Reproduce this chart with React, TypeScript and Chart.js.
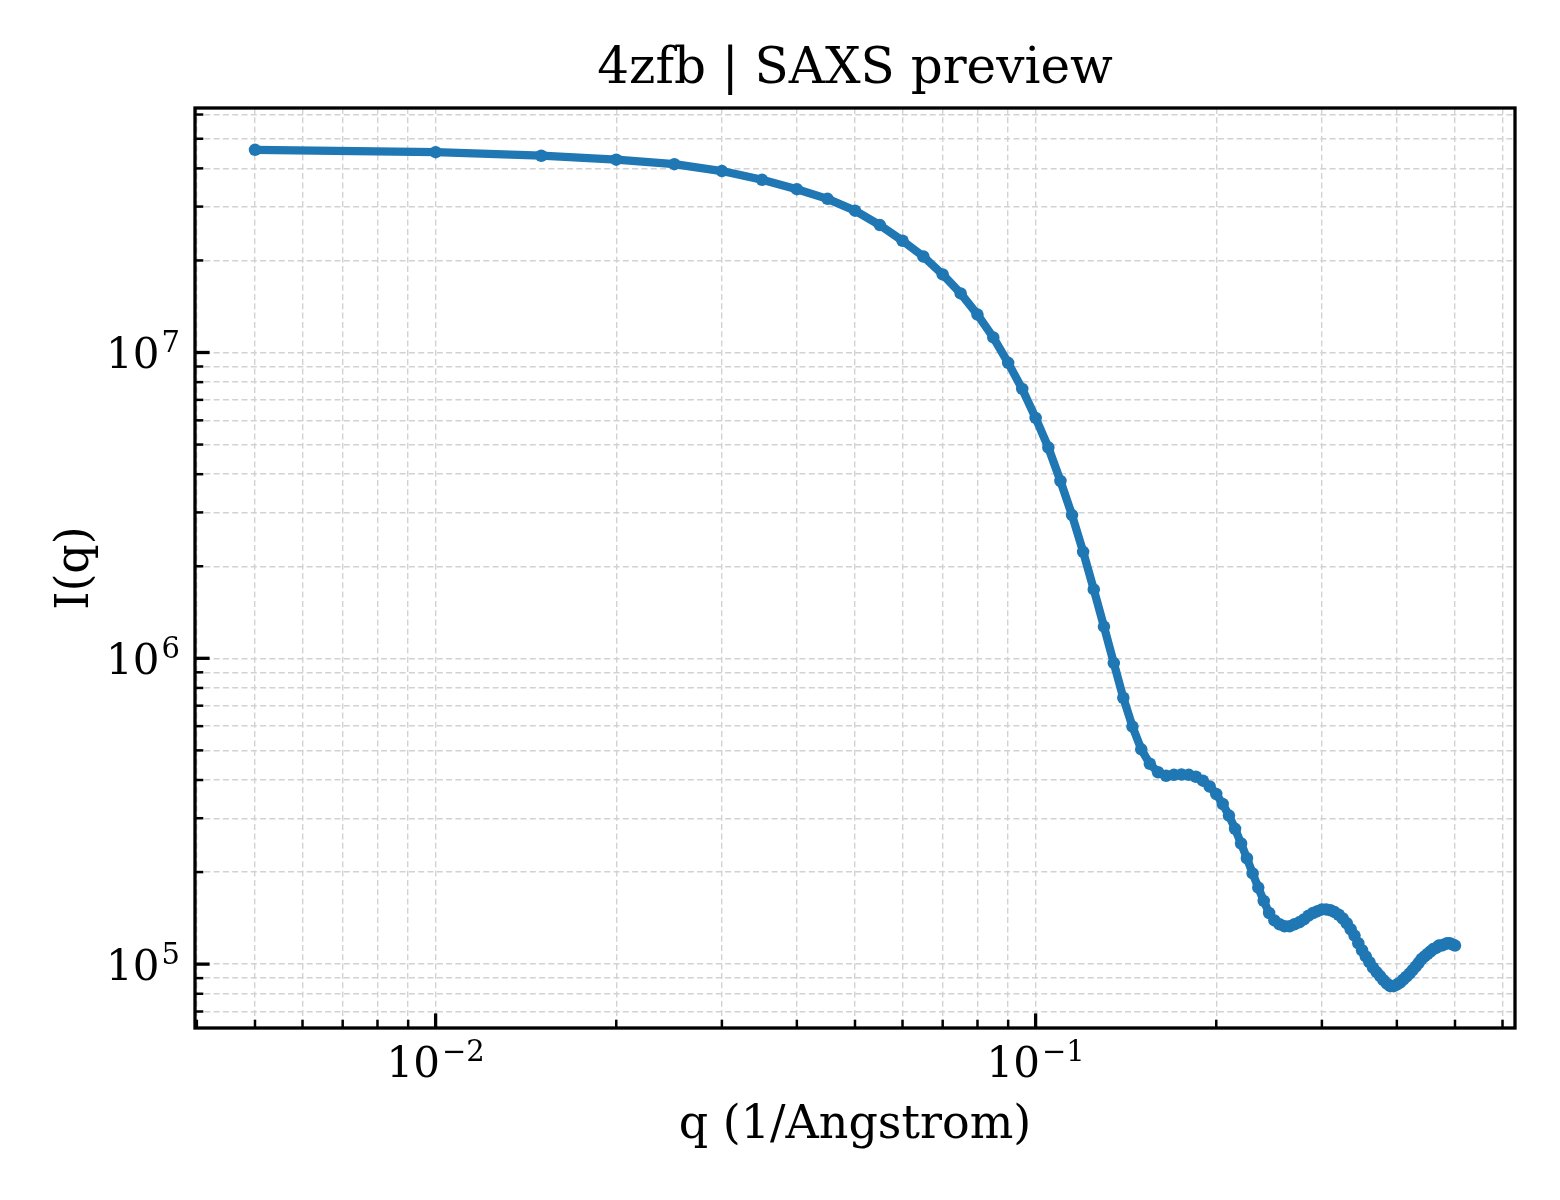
import { useEffect, useRef } from 'react';
import { Chart, registerables } from 'chart.js';

Chart.register(...registerables);

// scattering vector q (1/Angstrom)
const q = [
  0.005, 0.01, 0.015, 0.02, 0.025, 0.03, 0.035, 0.04, 0.045, 0.05,
  0.055, 0.06, 0.065, 0.07, 0.075, 0.08, 0.085, 0.09, 0.095, 0.1,
  0.105, 0.11, 0.115, 0.12, 0.125, 0.13, 0.135, 0.14, 0.145, 0.15,
  0.155, 0.16, 0.165, 0.17, 0.175, 0.18, 0.185, 0.19, 0.195, 0.2,
  0.205, 0.21, 0.215, 0.22, 0.225, 0.23, 0.235, 0.24, 0.245, 0.25,
  0.255, 0.26, 0.265, 0.27, 0.275, 0.28, 0.285, 0.29, 0.295, 0.3,
  0.305, 0.31, 0.315, 0.32, 0.325, 0.33, 0.335, 0.34, 0.345, 0.35,
  0.355, 0.36, 0.365, 0.37, 0.375, 0.38, 0.385, 0.39, 0.395, 0.4,
  0.405, 0.41, 0.415, 0.42, 0.425, 0.43, 0.435, 0.44, 0.445, 0.45,
  0.455, 0.46, 0.465, 0.47, 0.475, 0.48, 0.485, 0.49, 0.495, 0.5,
];

// I(q)
const intensity = [
  4.60e7, 4.52e7, 4.40e7, 4.27e7, 4.13e7, 3.92e7, 3.67e7, 3.42e7, 3.18e7, 2.91e7,
  2.61e7, 2.32e7, 2.06e7, 1.80e7, 1.56e7, 1.33e7, 1.12e7, 9.25e6, 7.60e6, 6.11e6,
  4.89e6, 3.80e6, 2.94e6, 2.23e6, 1.68e6, 1.27e6, 9.65e5, 7.43e5, 5.98e5, 5.04e5,
  4.52e5, 4.24e5, 4.13e5, 4.16e5, 4.17e5, 4.16e5, 4.10e5, 3.98e5, 3.81e5, 3.60e5,
  3.34e5, 3.06e5, 2.77e5, 2.48e5, 2.22e5, 1.98e5, 1.78e5, 1.61e5, 1.47e5, 1.39e5,
  1.35e5, 1.33e5, 1.33e5, 1.35e5, 1.37e5, 1.40e5, 1.44e5, 1.47e5, 1.49e5, 1.51e5,
  1.51e5, 1.50e5, 1.48e5, 1.45e5, 1.41e5, 1.36e5, 1.30e5, 1.24e5, 1.17e5, 1.11e5,
  1.06e5, 1.015e5, 9.74e4, 9.42e4, 9.14e4, 8.86e4, 8.63e4, 8.47e4, 8.47e4, 8.57e4,
  8.70e4, 8.90e4, 9.10e4, 9.31e4, 9.56e4, 9.81e4, 1.01e5, 1.04e5, 1.06e5, 1.08e5,
  1.10e5, 1.12e5, 1.13e5, 1.15e5, 1.15e5, 1.16e5, 1.17e5, 1.17e5, 1.16e5, 1.15e5,
];

const xMajorTicks = [0.01, 0.1];
const xMajorExps = ['\u22122', '\u22121'];
const yMajorTicks = [1e5, 1e6, 1e7];
const yMajorExps = ['5', '6', '7'];

const TITLE = '4zfb | SAXS preview';
const X_LABEL = 'q (1/Angstrom)';
const Y_LABEL = 'I(q)';

const SERIF = '"DejaVu Serif", serif';
const BLUE = '#1f77b4';

// matplotlib-like 5% margin in log space
function paddedRange(vals: number[]): [number, number] {
  const lo = Math.log10(Math.min(...vals));
  const hi = Math.log10(Math.max(...vals));
  const pad = (hi - lo) * 0.05;
  return [Math.pow(10, lo - pad), Math.pow(10, hi + pad)];
}

function logTicks(min: number, max: number) {
  const out: { value: number; major: boolean }[] = [];
  for (let e = Math.floor(Math.log10(min)); e <= Math.ceil(Math.log10(max)); e++) {
    for (let m = 1; m < 10; m++) {
      const v = parseFloat((m * Math.pow(10, e)).toPrecision(6));
      if (v >= min && v <= max) out.push({ value: v, major: m === 1 });
    }
  }
  return out;
}

function drawPow(ctx: CanvasRenderingContext2D, exp: string, x: number, y: number, align: 'center' | 'right') {
  ctx.save();
  ctx.fillStyle = '#000';
  ctx.textAlign = 'left';
  ctx.textBaseline = 'alphabetic';
  ctx.font = `42px ${SERIF}`;
  const wb = ctx.measureText('10').width;
  ctx.font = `29px ${SERIF}`;
  const we = ctx.measureText(exp).width;
  const total = wb + 2 + we;
  const start = align === 'center' ? x - total / 2 : x - total;
  ctx.font = `42px ${SERIF}`;
  ctx.fillText('10', start, y);
  ctx.font = `29px ${SERIF}`;
  ctx.fillText(exp, start + wb + 2, y - 16);
  ctx.restore();
}

const framePlugin = {
  id: 'mplFrame',
  afterDraw(chart: any) {
    const { ctx, chartArea: a, scales } = chart;
    const xs = scales.x;
    const ys = scales.y;
    ctx.save();

    // inward ticks on bottom and left
    ctx.strokeStyle = '#000';
    xs.ticks.forEach((t: any) => {
      const px = xs.getPixelForValue(t.value);
      if (px < a.left - 0.5 || px > a.right + 0.5) return;
      ctx.lineWidth = t.major ? 3.3 : 2.5;
      ctx.beginPath();
      ctx.moveTo(px, a.bottom);
      ctx.lineTo(px, a.bottom - (t.major ? 14.6 : 8.3));
      ctx.stroke();
    });
    ys.ticks.forEach((t: any) => {
      const py = ys.getPixelForValue(t.value);
      if (py < a.top - 0.5 || py > a.bottom + 0.5) return;
      ctx.lineWidth = t.major ? 3.3 : 2.5;
      ctx.beginPath();
      ctx.moveTo(a.left, py);
      ctx.lineTo(a.left + (t.major ? 14.6 : 8.3), py);
      ctx.stroke();
    });

    // spines
    ctx.lineWidth = 3.3;
    ctx.strokeRect(a.left, a.top, a.right - a.left, a.bottom - a.top);

    // tick labels
    xMajorTicks.forEach((v, i) => drawPow(ctx, xMajorExps[i], xs.getPixelForValue(v), a.bottom + 49, 'center'));
    yMajorTicks.forEach((v, i) => drawPow(ctx, yMajorExps[i], a.left - 15, ys.getPixelForValue(v) + 16, 'right'));

    // title and axis labels
    ctx.fillStyle = '#000';
    ctx.textAlign = 'center';
    ctx.textBaseline = 'alphabetic';
    const cx = (a.left + a.right) / 2;
    ctx.font = `50px ${SERIF}`;
    ctx.fillText(TITLE, cx, a.top - 25);
    ctx.font = `46px ${SERIF}`;
    ctx.fillText(X_LABEL, cx, a.bottom + 110);
    ctx.save();
    ctx.translate(a.left - 107, (a.top + a.bottom) / 2);
    ctx.rotate(-Math.PI / 2);
    ctx.fillText(Y_LABEL, 0, 0);
    ctx.restore();

    ctx.restore();
  },
};

export default function App() {
  const canvasRef = useRef<HTMLCanvasElement>(null);
  const chartRef = useRef<Chart | null>(null);

  useEffect(() => {
    document.body.style.margin = '0';
    if (!canvasRef.current) return;
    if (chartRef.current) chartRef.current.destroy();

    const [xMin, xMax] = paddedRange(q);
    const [yMin, yMax] = paddedRange(intensity);

    const gridStyle = { color: '#d2d2d2', lineWidth: 1.4, drawTicks: false };
    const borderStyle = { display: false, dash: [6, 3.3] };

    chartRef.current = new Chart(canvasRef.current, {
      type: 'line',
      data: {
        datasets: [
          {
            label: 'I(q)',
            data: q.map((x, i) => ({ x, y: intensity[i] })),
            borderColor: BLUE,
            backgroundColor: BLUE,
            borderWidth: 8.3,
            borderJoinStyle: 'round',
            pointRadius: 6.25,
            pointBorderWidth: 0,
            pointBackgroundColor: BLUE,
            tension: 0,
          },
        ],
      },
      options: {
        responsive: false,
        devicePixelRatio: 1,
        animation: false,
        layout: { padding: { top: 108, right: 45, bottom: 0, left: 0 } },
        plugins: {
          legend: { display: false },
          title: { display: false },
          tooltip: { enabled: false },
        },
        scales: {
          x: {
            type: 'logarithmic',
            position: 'bottom',
            min: xMin,
            max: xMax,
            afterBuildTicks: (s: any) => { s.ticks = logTicks(s.min, s.max); },
            afterFit: (s: any) => { s.height = 172; },
            ticks: { display: false, autoSkip: false },
            grid: gridStyle,
            border: borderStyle,
          },
          y: {
            type: 'logarithmic',
            position: 'left',
            min: yMin,
            max: yMax,
            afterBuildTicks: (s: any) => { s.ticks = logTicks(s.min, s.max); },
            afterFit: (s: any) => { s.width = 195; },
            ticks: { display: false, autoSkip: false },
            grid: gridStyle,
            border: borderStyle,
          },
        },
      } as any,
      plugins: [framePlugin],
    });

    return () => {
      if (chartRef.current) {
        chartRef.current.destroy();
        chartRef.current = null;
      }
    };
  }, []);

  return (
    <div style={{ width: 1560, height: 1200, background: '#fff' }}>
      <canvas ref={canvasRef} width={1560} height={1200} style={{ width: 1560, height: 1200 }} />
    </div>
  );
}
